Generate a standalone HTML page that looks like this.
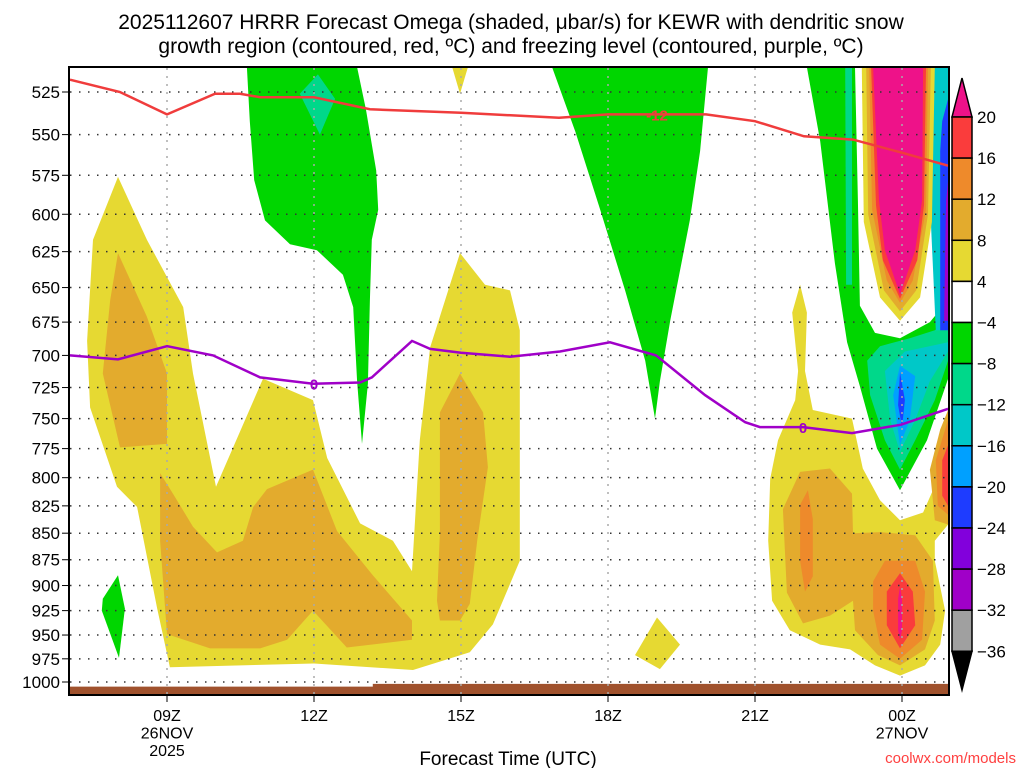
<!DOCTYPE html>
<html><head><meta charset="utf-8"><style>
html,body{margin:0;padding:0;background:#fff;}
svg{display:block;font-family:"Liberation Sans",sans-serif;}
</style></head><body>
<svg id="chart" width="1024" height="768" viewBox="0 0 1024 768" xmlns="http://www.w3.org/2000/svg">
<text x="511" y="29" text-anchor="middle" font-size="21">2025112607 HRRR Forecast Omega (shaded, μbar/s) for KEWR with dendritic snow</text>
<text x="511" y="53" text-anchor="middle" font-size="21">growth region (contoured, red, ºC) and freezing level (contoured, purple, ºC)</text>
<g id="fills"></g>
<g id="grid"></g>
<g id="lines"></g>
<rect x="69" y="67" width="880" height="628" fill="none" stroke="#000" stroke-width="2"/>
<g id="axes"></g>
<g id="cbar"></g>
<text x="508" y="765" text-anchor="middle" font-size="19">Forecast Time (UTC)</text>
<text x="1016" y="763" text-anchor="end" font-size="15" fill="#ff4040">coolwx.com/models</text>
</svg>
<script>
// axes: hours since 09Z, pressure in hPa (log-pressure vertical axis)
const pressureTicks = [525,550,575,600,625,650,675,700,725,750,775,800,825,850,875,900,925,950,975,1000];
const timeTickHours = [0,3,6,9,12,15];
const timeTickLabels = [["09Z","26NOV","2025"],["12Z"],["15Z"],["18Z"],["21Z"],["00Z","27NOV"]];
// -12C line (dendritic growth)
const redHours = [-1.98,-0.96,0,0.98,1.49,1.9,3,4.14,6,8,9,10,11,12,13,14,15,15.94];
const redP = [518,525,538,526,526,528,528,535,537,540,538,538,538,542,551,553,561,569];
// 0C freezing level
const purpleHours = [-1.98,-1,0,0.94,1.9,2.98,3.94,4.18,5,5.37,6,7,8.02,9.04,9.98,10.98,11.8,12.1,12.98,13.98,14.98,15.94];
const purpleP = [700,703,693,700,717,722,721,717,689,695,698,701,697,690,700,731,753,757,757,762,755,742];
// colorbar levels
const cbarLevels = [20,16,12,8,4,-4,-8,-12,-16,-20,-24,-28,-32,-36];
const cbarColors = ["#fa3c3c","#ee8a2b","#e3ab2d","#e6d932","#ffffff","#00d600","#00d88a","#00c8c8","#00a0ff","#1e3cff","#8200dc","#a000c8","#a0a0a0"];
const C = {y:"#e6d932",lo:"#e3ab2d",o:"#ee8a2b",r:"#fa3c3c",m:"#ee1289",g:"#00d600",t:"#00d88a",c:"#00c8c8",lb:"#00a0ff",b:"#1e3cff",p:"#8200dc",v:"#a000c8"};
// contour fill polygons [hour, hPa]
const shapes = [
 ["yellow-left",C.y,[[-1,576],[-0.41,617],[0.33,664],[0.53,714],[1,808],[1.96,718],[2.98,735],[3.27,783],[3.94,841],[4.61,857],[5,886],[5.16,768],[5.37,694],[5.98,626],[6.49,648],[7,652],[7.2,681],[7.2,876],[6.65,939],[6.18,968],[5.02,987],[3,980],[0.06,984],[-0.2,923],[-0.61,826],[-1.02,808],[-1.57,741],[-1.63,689],[-1.51,617]]],
 ["orange-left-upper",C.lo,[[-1,626],[-0.41,671],[0,714],[0,771],[-0.96,774],[-1.31,714],[-1.16,659]]],
 ["orange-left-lower",C.lo,[[-0.14,796],[0.12,814],[0.53,844],[1.02,868],[1.55,857],[1.76,826],[2.04,810],[2.98,793],[3.47,848],[4.2,890],[5,935],[5,955],[3.67,963],[2.98,925],[2.45,955],[1.9,964],[0.88,964],[0,949],[-0.14,857]]],
 ["orange-15z",C.lo,[[5.98,714],[6.45,745],[6.55,791],[6.33,857],[6.18,918],[5.98,935],[5.57,935],[5.51,915],[5.57,850],[5.57,745]]],
 ["green-left-small",C.g,[[-1,890],[-0.86,923],[-0.98,974],[-1.33,925],[-1.31,913]]],
 ["green-12z",C.g,[[1.63,511],[3.88,511],[4.06,535],[4.27,572],[4.31,597],[4.18,617],[4.14,659],[4.1,722],[3.98,771],[3.88,720],[3.8,664],[3.59,641],[3.06,624],[2.51,620],[2,604],[1.78,578],[1.69,542]]],
 ["teal-12z",C.t,[[2.71,526],[3.08,515],[3.43,529],[3.12,550]]],
 ["yellow-15z-top",C.y,[[5.82,511],[6.14,511],[5.98,526]]],
 ["green-18z",C.g,[[7.86,511],[8.33,548],[8.84,597],[9.35,652],[9.76,704],[9.96,750],[10.06,720],[10.27,674],[10.67,604],[10.88,560],[11.04,511]]],
 ["yellow-19z-bottom",C.y,[[9.55,971],[10,932],[10.47,960],[10.06,986]]],
 ["yellow-right",C.y,[[12.92,648],[13.06,668],[13.02,712],[13.18,743],[13.98,750],[14.2,792],[14.55,820],[14.96,838],[15.43,831],[15.63,811],[15.78,778],[15.94,768],[15.94,842],[15.67,857],[15.67,876],[15.88,925],[15.78,960],[15.47,982],[14.96,993],[14.45,982],[13.94,965],[13.33,960],[12.71,945],[12.35,915],[12.27,857],[12.31,801],[12.47,768],[12.82,735],[12.88,712],[12.76,668]]],
 ["lorange-right",C.lo,[[12.57,828],[12.92,795],[13.53,792],[13.98,814],[14,850],[14.55,849],[15.27,852],[15.63,876],[15.67,935],[15.47,965],[14.96,982],[14.51,971],[14.04,945],[14,915],[13.53,930],[12.98,938],[12.65,907]]],
 ["orange-22z",C.o,[[12.92,824],[13.08,811],[13.18,837],[13.18,891],[13.02,906],[12.92,876]]],
 ["orange-00z",C.o,[[14.41,896],[14.65,876],[15.27,876],[15.47,906],[15.41,955],[14.96,975],[14.55,960],[14.41,925]]],
 ["red-00z",C.r,[[14.69,906],[14.96,888],[15.22,906],[15.27,940],[14.96,964],[14.69,940]]],
 ["magenta-00z",C.m,[[14.92,913],[14.96,901],[15,913],[15,945],[14.96,955],[14.92,945]]],
 ["lorange-edge",C.lo,[[15.94,743],[15.94,842],[15.67,838],[15.57,793],[15.78,759]]],
 ["orange-edge",C.o,[[15.94,751],[15.94,833],[15.73,825],[15.69,785]]],
 ["red-edge",C.r,[[15.94,772],[15.94,825],[15.82,816],[15.82,785]]],
 ["green-right",C.g,[[13.06,511],[14.04,511],[14.1,591],[14.14,663],[14.45,683],[14.96,687],[15.57,675],[15.94,659],[15.94,718],[15.51,768],[14.96,811],[14.49,775],[14.14,724],[13.88,690],[13.63,633],[13.33,554]]],
 ["teal-strip",C.t,[[13.84,511],[13.98,511],[13.98,648],[13.86,648]]],
 ["teal-right",C.t,[[14.29,704],[14.55,693],[15.16,687],[15.67,681],[15.94,674],[15.94,704],[15.67,735],[15.27,768],[14.96,793],[14.65,768],[14.35,731]]],
 ["cyan-right",C.c,[[14.65,712],[15.06,697],[15.94,690],[15.94,697],[15.57,720],[15.27,751],[14.96,778],[14.76,751]]],
 ["lblue-right",C.lb,[[14.82,731],[14.96,708],[15.27,716],[15.16,751],[14.96,772]]],
 ["blue-right",C.b,[[14.92,739],[14.96,713],[15.06,735],[15,757]]],
 ["cyan-edge",C.c,[[15.61,511],[15.94,511],[15.94,681],[15.69,681],[15.57,591]]],
 ["blue-edge",C.b,[[15.82,542],[15.94,529],[15.94,681],[15.78,681],[15.78,560]]],
 ["purple-edge",C.v,[[15.9,591],[15.94,578],[15.94,674],[15.86,674]]],
 ["yellow-ring",C.y,[[14.18,511],[15.67,511],[15.61,605],[15.37,657],[14.96,674],[14.55,657],[14.22,605]]],
 ["lorange-ring",C.lo,[[14.27,511],[15.59,511],[15.53,600],[15.29,652],[14.96,667],[14.63,652],[14.31,600]]],
 ["orange-ring",C.o,[[14.33,511],[15.53,511],[15.49,597],[15.22,645],[14.96,661],[14.69,645],[14.39,597]]],
 ["red-ring",C.r,[[14.37,511],[15.49,511],[15.45,594],[15.31,631],[14.96,658],[14.61,631],[14.47,594]]],
 ["magenta-core",C.m,[[14.41,511],[15.43,511],[15.41,591],[15.27,624],[14.96,655],[14.65,624],[14.53,591]]]
];
const NS="http://www.w3.org/2000/svg";
const X = h => 167 + h*49;
const Y = p => 92 + Math.log(p/525)/Math.log(1000/525)*590;
function mk(tag, attrs, parent){const e=document.createElementNS(NS,tag);for(const k in attrs)e.setAttribute(k,attrs[k]);parent.appendChild(e);return e;}
const fills=document.getElementById('fills');
const cp=mk('clipPath',{id:'pc'},fills);
mk('rect',{x:69,y:67,width:880,height:628},cp);
const fg=mk('g',{'clip-path':'url(#pc)'},fills);
shapes.forEach(s=>{
  const el=mk('polygon',{points:s[2].map(q=>X(q[0]).toFixed(1)+','+Y(q[1]).toFixed(1)).join(' '),fill:s[1]},fg);
  
  
});
const ground=mk('polygon',{points:`${X(-2)},${Y(1005)} ${X(4.2)},${Y(1005)} ${X(4.2)},${Y(1002)} ${X(15.94)},${Y(1002)} ${X(15.94)},${Y(1016)} ${X(-2)},${Y(1016)}`,fill:'#a0522d'},fg);


const grid=document.getElementById('grid'), axes=document.getElementById('axes');
pressureTicks.forEach(p=>{
  const l=mk('line',{x1:70,x2:948,y1:Y(p),y2:Y(p),stroke:'#333','stroke-width':1.5,'stroke-dasharray':'1.5 7.5'},grid);
  
  
  const t=mk('text',{x:60,y:Y(p)+6,'text-anchor':'end','font-size':17},axes);
  t.textContent=p;
  
  
  mk('line',{x1:62,x2:69,y1:Y(p),y2:Y(p),stroke:'#000','stroke-width':1},axes);
});
timeTickHours.forEach((h,i)=>{
  const l=mk('line',{x1:X(h),x2:X(h),y1:68,y2:694,stroke:'#aaa','stroke-width':1.5,'stroke-dasharray':'2 6'},grid);
  
  
  mk('line',{x1:X(h),x2:X(h),y1:695,y2:702,stroke:'#000','stroke-width':1},axes);
  timeTickLabels[i].forEach((s,j)=>{
    const t=mk('text',{x:X(h),y:721+j*17.5,'text-anchor':'middle','font-size':16},axes);
    t.textContent=s;
    
    
  });
});
const lines=document.getElementById('lines');
const lg=mk('g',{'clip-path':'url(#pc)'},lines);
const red=mk('polyline',{points:redHours.map((h,i)=>X(h)+','+Y(redP[i])).join(' '),fill:'none',stroke:'#f03c3c','stroke-width':2.5},lg);


const pur=mk('polyline',{points:purpleHours.map((h,i)=>X(h)+','+Y(purpleP[i])).join(' '),fill:'none',stroke:'#a000c8','stroke-width':2.5},lg);


[[10,538,'-12','#f03c3c'],[3,722,'0','#a000c8'],[12.98,757,'0','#a000c8']].forEach(a=>{
  const t=mk('text',{x:X(a[0]),y:Y(a[1])+6,'text-anchor':'middle','font-size':15,'font-weight':'bold',fill:a[3]},lines);
  t.textContent=a[2];
  
  
});
// colorbar
const cb=document.getElementById('cbar');
const cy = i => 117 + i*41.1;
const tri1=mk('polygon',{points:`952,${cy(0)} 972,${cy(0)} 962,78`,fill:'#ee1289',stroke:'#000','stroke-width':1.5},cb);


cbarColors.forEach((c,i)=>{
  const r=mk('rect',{x:952,y:cy(i),width:20,height:41.1,fill:c,stroke:'#000','stroke-width':1.5},cb);
  
  
});
const tri2=mk('polygon',{points:`952,${cy(13)} 972,${cy(13)} 962,690`,fill:'#000',stroke:'#000','stroke-width':1.5},cb);


cbarLevels.forEach((v,i)=>{
  const t=mk('text',{x:977,y:cy(i)+6,'font-size':17},cb);
  t.textContent=(v<0?'\u2212':'')+Math.abs(v);
  
  
});
</script>
</body></html>
